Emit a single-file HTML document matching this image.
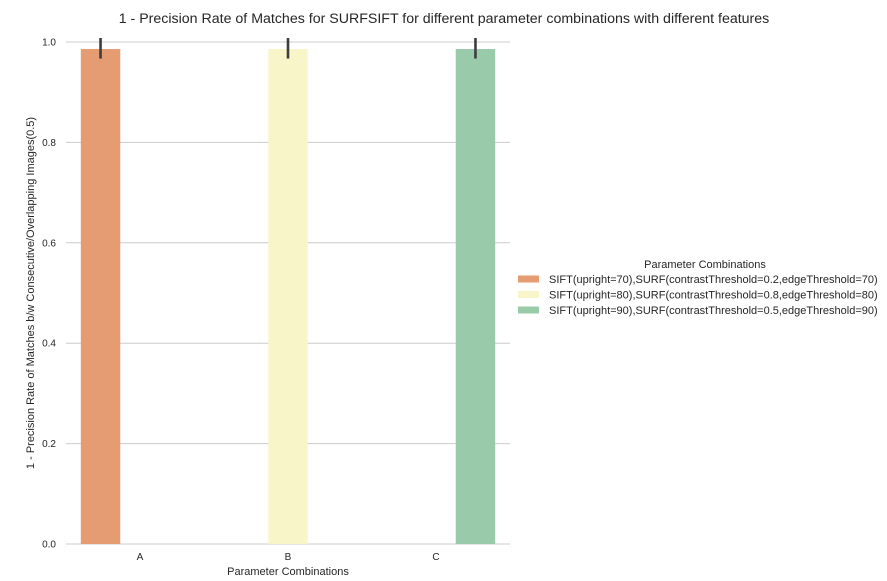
<!DOCTYPE html>
<html><head><meta charset="utf-8"><style>
body{margin:0;background:#fff;font-family:"Liberation Sans",sans-serif;}
</style></head><body>
<svg width="887" height="576" xmlns="http://www.w3.org/2000/svg" font-family="Liberation Sans, sans-serif">
<text x="444" y="23" text-anchor="middle" font-size="14.2" fill="#262626">1 - Precision Rate of Matches for SURFSIFT for different parameter combinations with different features</text>
<g id="grid"></g>
<g id="bars"></g>
<g id="ticks"></g>
<text x="288" y="575" text-anchor="middle" font-size="11" fill="#262626">Parameter Combinations</text>
<text transform="translate(34,293) rotate(-90)" text-anchor="middle" font-size="11" fill="#262626">1 - Precision Rate of Matches b/w Consecutive/Overlapping Images(0.5)</text>
<g id="legend">
<text x="705" y="268" text-anchor="middle" font-size="11" fill="#262626">Parameter Combinations</text>
</g>
</svg>
<script>
const categories=['A','B','C'];
const series=['SIFT(upright=70),SURF(contrastThreshold=0.2,edgeThreshold=70)','SIFT(upright=80),SURF(contrastThreshold=0.8,edgeThreshold=80)','SIFT(upright=90),SURF(contrastThreshold=0.5,edgeThreshold=90)'];
const values=[0.986,0.986,0.986];
const errLow=[0.967,0.967,0.967];
const errHigh=[1.008,1.008,1.008];
const yTicks=[0,0.2,0.4,0.6,0.8,1.0];
const colors=['#e69c73','#f8f6c8','#99cbab'];
const NS='http://www.w3.org/2000/svg';
const X0=66,X1=510,Y0=544,Y1=42;
const y=v=>Y0-(Y0-Y1)*v;
const step=(X1-X0)/categories.length;
const cx=i=>X0+step*(i+0.5);
const bw=step*0.8/series.length;
function mk(t,a,p){const e=document.createElementNS(NS,t);for(const k in a)e.setAttribute(k,a[k]);p.appendChild(e);return e;}
const grid=document.getElementById('grid'),ticks=document.getElementById('ticks'),bars=document.getElementById('bars'),leg=document.getElementById('legend');
yTicks.forEach(t=>{
 const l=mk('line',{x1:X0,x2:X1,y1:y(t),y2:y(t),stroke:'#cccccc','stroke-width':1},grid);
 
 
 const tx=mk('text',{x:X0-10,y:y(t)+3.5,'text-anchor':'end','font-size':10,fill:'#262626'},ticks);
 tx.textContent=t.toFixed(1);
 
 
});
categories.forEach((c,i)=>{
 const s=i;
 const x=cx(i)-step*0.4+bw*s;
 const r=mk('rect',{x:x,y:y(values[i]),width:bw,height:y(0)-y(values[i]),fill:colors[s]},bars);
 
 
 const e=mk('line',{x1:x+bw/2,x2:x+bw/2,y1:y(errHigh[i]),y2:y(errLow[i]),stroke:'#3d3d3d','stroke-width':2.6},bars);
 
 
 const tx=mk('text',{x:cx(i),y:560,'text-anchor':'middle','font-size':10,fill:'#262626'},ticks);
 tx.textContent=c;
 
 
});
series.forEach((s,i)=>{
 const yy=279+i*15.5;
 const r=mk('rect',{x:518,y:yy-3.5,width:21,height:7,fill:colors[i]},leg);
 
 
 const t=mk('text',{x:549,y:yy+4,'font-size':11,fill:'#262626'},leg);
 t.textContent=s;
 
 
});
</script>
</body></html>
